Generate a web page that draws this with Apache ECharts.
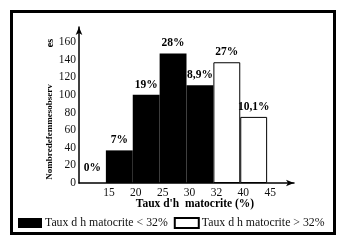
<!DOCTYPE html>
<html>
<head>
<meta charset="utf-8">
<script src="https://cdn.jsdelivr.net/npm/echarts@6/dist/echarts.min.js"></script>
<style>
html,body{margin:0;padding:0;background:#fff;}
#c{width:347px;height:247px;}
</style>
</head>
<body>
<div id="c"></div>
<script>
const categories = ['<15', '15-20', '20-25', '25-30', '30-32', '32-40', '40-45', ''];
const tickLabels = ['15', '20', '25', '30', '32', '40', '45'];
const lowValues = [0, 37, 100, 147, 111, null, null, null];
const highValues = [null, null, null, null, null, 137, 75, null];
const pctLabels = ['0%', '7%', '19%', '28%', '8,9%', '27%', '10,1%', ''];
const yTicks = [0, 20, 40, 60, 80, 100, 120, 140, 160];

const serif = '"Liberation Serif", "Times New Roman", serif';

function mk(vals) {
  return vals.map((v, i) => v === null ? '-' : {
    value: v,
    label: { formatter: pctLabels[i], distance: v === 0 ? 9 : 4 }
  });
}

const chart = echarts.init(document.getElementById('c'), null, { renderer: 'canvas' });
chart.setOption({
  animation: false,
  backgroundColor: '#fff',
  grid: { left: 79, right: 53, top: 27, bottom: 64, containLabel: false },
  legend: {
    left: 18, top: 217, itemWidth: 24, itemHeight: 10, itemGap: 6, padding: 0,
    icon: 'rect',
    textStyle: { fontFamily: serif, fontSize: 11.8, color: '#111', padding: [0, 0, 0, -2] },
    data: ['Taux d h matocrite < 32%', 'Taux d h matocrite > 32%']
  },
  xAxis: [
    { type: 'category', data: categories, gridIndex: 0,
      axisLine: { show: false }, axisTick: { show: false }, axisLabel: { show: false } },
    { type: 'value', min: 0, max: 8, interval: 1, gridIndex: 0, position: 'bottom',
      axisLine: { show: true, symbol: ['none', 'arrow'], symbolSize: [5, 8], lineStyle: { color: '#000', width: 1.5 } },
      axisTick: { show: false }, splitLine: { show: false },
      axisLabel: { fontFamily: serif, fontSize: 11.5, color: '#111', margin: 4, padding: [0, 0, 0, 6],
        formatter: v => (v >= 1 && v <= 7) ? tickLabels[v - 1] : '' } }
  ],
  yAxis: {
    type: 'value', min: 0, max: 177, interval: 20,
    axisLine: { show: true, symbol: ['none', 'arrow'], symbolSize: [5, 8], lineStyle: { color: '#000', width: 1.5 } },
    axisTick: { show: false }, splitLine: { show: false },
    axisLabel: { fontFamily: serif, fontSize: 11.5, color: '#111', margin: 3,
      formatter: v => yTicks.indexOf(v) >= 0 ? String(v) : '' }
  },
  series: [
    { name: 'Taux d h matocrite < 32%', type: 'bar', stack: 's', xAxisIndex: 0,
      barCategoryGap: 0, barGap: 0, barWidth: '100%',
      itemStyle: { color: '#000', borderColor: '#000', borderWidth: 0 },
      label: { show: true, position: 'top', fontFamily: serif, fontWeight: 'bold', fontSize: 11.5, color: '#000' },
      data: mk(lowValues) },
    { name: 'Taux d h matocrite > 32%', type: 'bar', stack: 's', xAxisIndex: 0,
      barCategoryGap: 0, barGap: 0, barWidth: '100%',
      itemStyle: { color: '#fff', borderColor: '#000', borderWidth: 1 },
      label: { show: true, position: 'top', fontFamily: serif, fontWeight: 'bold', fontSize: 11.5, color: '#000' },
      data: mk(highValues) }
  ],
  graphic: [
    { type: 'rect', shape: { x: 11.5, y: 11.5, width: 323, height: 222 },
      style: { fill: 'none', stroke: '#000', lineWidth: 3 }, silent: true },
    { type: 'text', x: 50, y: 132, rotation: Math.PI / 2,
      style: { text: 'Nombredefemmesobserv', fontFamily: serif, fontWeight: 'bold', fontSize: 9,
        fill: '#000', align: 'center', verticalAlign: 'middle' } },
    { type: 'text', x: 50, y: 43, rotation: Math.PI / 2,
      style: { text: 'es', fontFamily: serif, fontWeight: 'bold', fontSize: 10,
        fill: '#000', align: 'center', verticalAlign: 'middle' } },
    { type: 'text', x: 195, y: 204,
      style: { text: "Taux d'h  matocrite (%)", fontFamily: serif, fontWeight: 'bold', fontSize: 11.5,
        fill: '#000', align: 'center', verticalAlign: 'middle' } }
  ]
});
</script>
</body>
</html>
